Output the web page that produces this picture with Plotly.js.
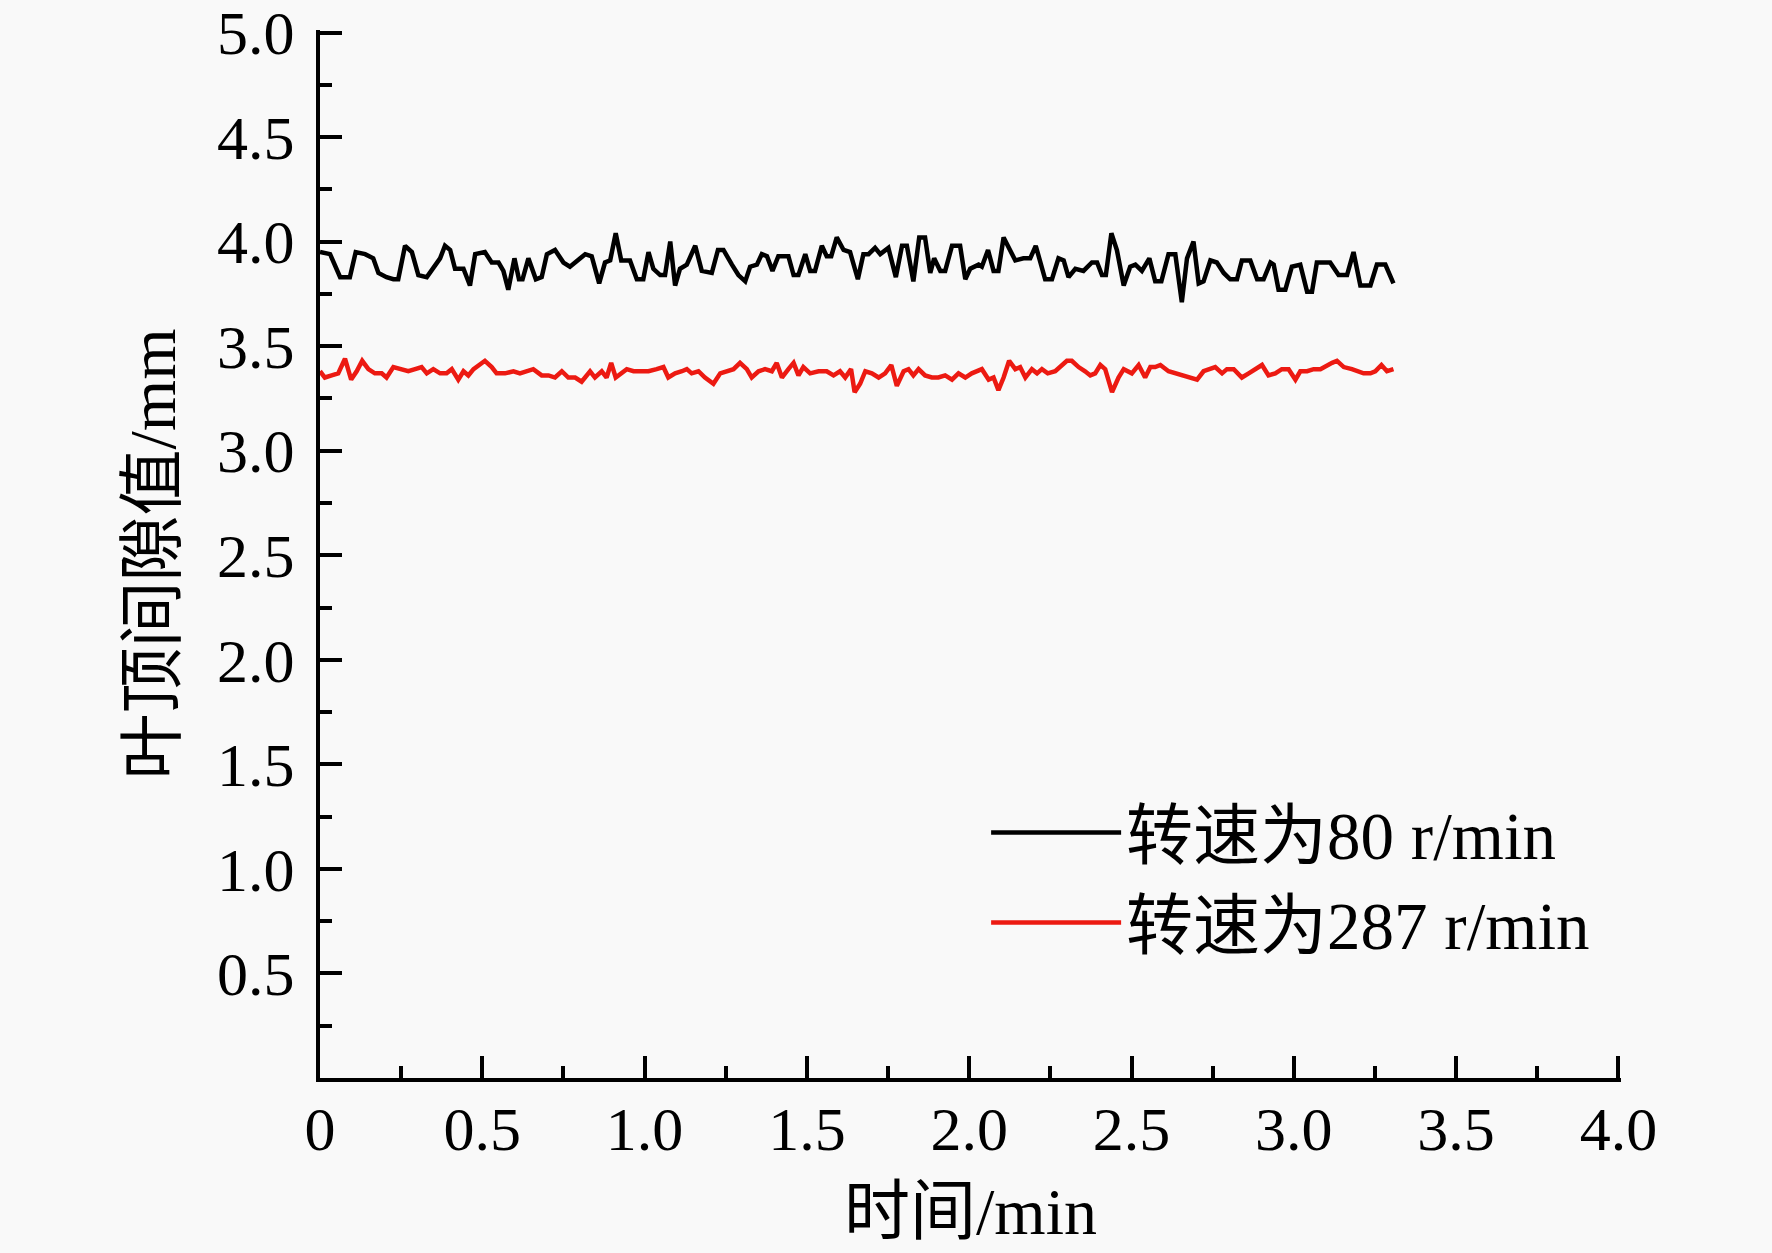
<!DOCTYPE html>
<html>
<head>
<meta charset="utf-8">
<script src="https://cdn.plot.ly/plotly-3.0.1.min.js"></script>
<style>
  html, body { margin: 0; padding: 0; background: #f9f9f9; }
  #chart { width: 1772px; height: 1253px; }
</style>
</head>
<body>
<div id="chart"></div>
<script>
// Tip-clearance readings (mm) against time (min).
const slowTime = [
  0.000, 0.031, 0.062, 0.092, 0.110, 0.139, 0.164, 0.180, 0.205, 0.226, 0.241, 0.262, 0.283, 0.303, 0.329,
  0.354, 0.370, 0.385, 0.401, 0.416, 0.442, 0.462, 0.478, 0.508, 0.529, 0.550, 0.565, 0.580, 0.599, 0.613,
  0.624, 0.642, 0.665, 0.683, 0.699, 0.724, 0.750, 0.770, 0.796, 0.817,
  0.837, 0.860, 0.878, 0.894, 0.911, 0.928, 0.955, 0.976, 0.996, 1.012, 1.027, 1.048, 1.063, 1.079, 1.094,
  1.109, 1.130, 1.156, 1.176, 1.207, 1.226, 1.243, 1.269, 1.289, 1.310, 1.325, 1.346, 1.361, 1.377, 1.394,
  1.412, 1.443, 1.459, 1.474, 1.495, 1.510, 1.525, 1.546, 1.561, 1.575, 1.592, 1.613, 1.633, 1.649,
  1.657, 1.674, 1.690, 1.710, 1.726, 1.751, 1.774, 1.793, 1.808, 1.828, 1.846, 1.864, 1.880, 1.892, 1.911,
  1.926, 1.947, 1.972, 1.988, 2.003, 2.029, 2.039, 2.058, 2.075, 2.090, 2.106, 2.121, 2.142, 2.167, 2.188,
  2.205, 2.234, 2.255, 2.275, 2.291, 2.306, 2.327, 2.352, 2.378, 2.394, 2.409, 2.421, 2.438, 2.455, 2.476,
  2.496, 2.512, 2.532, 2.555, 2.573, 2.592, 2.614, 2.635, 2.655, 2.671, 2.691, 2.707, 2.722, 2.743, 2.763,
  2.784, 2.804, 2.825, 2.840, 2.866, 2.887, 2.907, 2.928, 2.938, 2.953, 2.974, 2.994, 3.020, 3.041, 3.056,
  3.071, 3.097, 3.112, 3.138, 3.164, 3.184, 3.205, 3.236, 3.256, 3.282, 3.307,
];
const slowGap = [
  3.95, 3.94, 3.83, 3.83, 3.95, 3.94, 3.92, 3.85, 3.83, 3.82, 3.82, 3.98, 3.95, 3.84, 3.83,
  3.88, 3.92, 3.98, 3.96, 3.87, 3.87, 3.79, 3.94, 3.95, 3.90, 3.90, 3.86, 3.77, 3.92, 3.82,
  3.82, 3.92, 3.82, 3.83, 3.94, 3.96, 3.90, 3.88, 3.91, 3.94,
  3.93, 3.80, 3.90, 3.91, 4.04, 3.91, 3.91, 3.82, 3.82, 3.95, 3.87, 3.84, 3.84, 4.00, 3.79,
  3.87, 3.89, 3.98, 3.86, 3.85, 3.96, 3.96, 3.89, 3.84, 3.81, 3.88, 3.89, 3.94, 3.93, 3.86,
  3.93, 3.93, 3.84, 3.84, 3.94, 3.86, 3.86, 3.98, 3.93, 3.93, 4.02, 3.96, 3.95, 3.86,
  3.82, 3.94, 3.94, 3.97, 3.94, 3.97, 3.83, 3.98, 3.98, 3.81, 4.02, 4.02, 3.85, 3.92, 3.86,
  3.86, 3.98, 3.98, 3.82, 3.87, 3.89, 3.88, 3.96, 3.86, 3.86, 4.02, 3.97, 3.91, 3.92, 3.92,
  3.98, 3.82, 3.82, 3.92, 3.91, 3.83, 3.87, 3.86, 3.90, 3.90, 3.84, 3.84, 4.04, 3.96, 3.79,
  3.88, 3.89, 3.86, 3.92, 3.81, 3.81, 3.94, 3.94, 3.71, 3.92, 4.00, 3.80, 3.81, 3.91, 3.90,
  3.85, 3.82, 3.82, 3.91, 3.91, 3.82, 3.82, 3.90, 3.89, 3.77, 3.77, 3.88, 3.89, 3.76, 3.76,
  3.90, 3.90, 3.90, 3.84, 3.84, 3.95, 3.79, 3.79, 3.89, 3.89, 3.80,
];

const fastTime = [
  0.000, 0.015, 0.036, 0.056, 0.077, 0.096, 0.113, 0.130, 0.149, 0.169, 0.190, 0.205, 0.226, 0.247, 0.272,
  0.293, 0.313, 0.329, 0.349, 0.370, 0.390, 0.406, 0.426, 0.442, 0.457, 0.473, 0.488, 0.508, 0.529, 0.544,
  0.570, 0.596, 0.616, 0.637, 0.657, 0.683, 0.704, 0.724, 0.745, 0.765, 0.786, 0.806, 0.817,
  0.832, 0.847, 0.868, 0.883, 0.897, 0.911, 0.930, 0.945, 0.966, 0.991, 1.012, 1.037, 1.058, 1.073, 1.094,
  1.115, 1.130, 1.145, 1.166, 1.186, 1.212, 1.233, 1.253, 1.274, 1.294, 1.315, 1.330, 1.351, 1.371, 1.392,
  1.407, 1.423, 1.443, 1.459, 1.474, 1.489, 1.510, 1.536, 1.561, 1.582, 1.602, 1.618, 1.636, 1.647,
  1.664, 1.680, 1.700, 1.721, 1.741, 1.760, 1.777, 1.798, 1.813, 1.828, 1.844, 1.864, 1.885, 1.905, 1.926,
  1.947, 1.967, 1.988, 2.008, 2.024, 2.039, 2.060, 2.075, 2.090, 2.106, 2.123, 2.142, 2.157, 2.173, 2.193,
  2.209, 2.224, 2.242, 2.265, 2.280, 2.301, 2.316, 2.337, 2.357, 2.373, 2.388, 2.404, 2.419, 2.440, 2.460,
  2.476,
  2.501, 2.522, 2.542, 2.558, 2.573, 2.589, 2.614, 2.635, 2.655, 2.676, 2.702, 2.722, 2.743, 2.758, 2.779,
  2.794, 2.815, 2.840, 2.861, 2.881, 2.902, 2.922, 2.943, 2.963, 2.984, 3.005, 3.020, 3.041, 3.061, 3.082,
  3.102, 3.118, 3.133, 3.154, 3.179, 3.195, 3.215, 3.236, 3.251, 3.270, 3.287, 3.307,
];
const fastGap = [
  3.38, 3.35, 3.36, 3.37, 3.44, 3.34, 3.38, 3.43, 3.39, 3.37, 3.37, 3.35, 3.40, 3.39, 3.38,
  3.39, 3.40, 3.37, 3.39, 3.37, 3.37, 3.39, 3.34, 3.38, 3.36, 3.39, 3.41, 3.43, 3.40, 3.37,
  3.37, 3.38, 3.37, 3.38, 3.39, 3.36, 3.36, 3.35, 3.38, 3.35, 3.35, 3.33, 3.35,
  3.38, 3.35, 3.38, 3.35, 3.42, 3.35, 3.37, 3.39, 3.38, 3.38, 3.38, 3.39, 3.40, 3.35, 3.37,
  3.38, 3.39, 3.37, 3.38, 3.35, 3.32, 3.37, 3.38, 3.39, 3.42, 3.39, 3.35, 3.38, 3.39, 3.38,
  3.42, 3.35, 3.39, 3.42, 3.36, 3.40, 3.37, 3.38, 3.38, 3.36, 3.38, 3.35, 3.39, 3.28,
  3.32, 3.38, 3.37, 3.35, 3.37, 3.41, 3.31, 3.38, 3.39, 3.36, 3.39, 3.36, 3.35, 3.35, 3.36,
  3.34, 3.37, 3.35, 3.37, 3.38, 3.39, 3.34, 3.35, 3.29, 3.35, 3.43, 3.39, 3.40, 3.35, 3.39,
  3.37, 3.39, 3.37, 3.38, 3.40, 3.43, 3.43, 3.40, 3.38, 3.36, 3.37, 3.41, 3.39, 3.28, 3.35,
  3.39,
  3.37, 3.41, 3.35, 3.40, 3.40, 3.41, 3.38, 3.37, 3.36, 3.35, 3.34, 3.38, 3.39, 3.40, 3.37,
  3.39, 3.39, 3.35, 3.37, 3.39, 3.41, 3.36, 3.37, 3.39, 3.39, 3.34, 3.38, 3.38, 3.39, 3.39,
  3.41, 3.42, 3.43, 3.40, 3.39, 3.38, 3.37, 3.37, 3.38, 3.41, 3.38, 3.39,
];

const seriesNames = ["转速为80 r/min", "转速为287 r/min"];

const xTickVals = [0, 0.5, 1.0, 1.5, 2.0, 2.5, 3.0, 3.5, 4.0];
const xTickText = ["0", "0.5", "1.0", "1.5", "2.0", "2.5", "3.0", "3.5", "4.0"];
const yTickVals = [0.5, 1.0, 1.5, 2.0, 2.5, 3.0, 3.5, 4.0, 4.5, 5.0];
const yTickText = ["0.5", "1.0", "1.5", "2.0", "2.5", "3.0", "3.5", "4.0", "4.5", "5.0"];

const FONT = "'Liberation Serif', 'Times New Roman', 'Noto Sans CJK SC', serif";
const BG = "#f9f9f9";

const traces = [
  {
    x: slowTime,
    y: slowGap,
    type: "scatter",
    mode: "lines",
    name: seriesNames[0],
    line: { color: "#000000", width: 4.5 },
  },
  {
    x: fastTime,
    y: fastGap,
    type: "scatter",
    mode: "lines",
    name: seriesNames[1],
    line: { color: "#ec1a12", width: 4.5 },
  },
];

// shared look for both axes: thick black frame line, inward ticks
function axisBase() {
  return {
    showline: true,
    linecolor: "#000",
    linewidth: 4,
    showgrid: false,
    zeroline: false,
    mirror: false,
    ticks: "inside",
    ticklen: 22,
    tickwidth: 4,
    tickcolor: "#000",
    tickmode: "array",
    tickfont: { family: FONT, size: 62, color: "#000" },
    ticklabeloverflow: "allow",
    minor: { tickmode: "linear", tick0: 0, dtick: 0.25, ticks: "inside", ticklen: 12, tickwidth: 4, tickcolor: "#000" },
    automargin: false,
    fixedrange: true,
  };
}

// inside ticks sitting right on the plot edge get dropped by plotly,
// so the ranges run a couple of pixels past the last tick
const xaxis = Object.assign(axisBase(), {
  range: [0, 4.008],
  tickvals: xTickVals,
  ticktext: xTickText,
  ticklabelstandoff: -6,
  title: { text: "时间/min", font: { family: FONT, size: 66, color: "#000" }, standoff: 26 },
});

const yaxis = Object.assign(axisBase(), {
  range: [0, 5.012],
  tickvals: yTickVals,
  ticktext: yTickText,
  ticklabelstandoff: 9,
  title: { text: "叶顶间隙值/mm", font: { family: FONT, size: 66, color: "#000" }, standoff: 21 },
});

const layout = {
  width: 1772,
  height: 1253,
  margin: { l: 320, r: 151, t: 30, b: 175, pad: 0 },
  paper_bgcolor: BG,
  plot_bgcolor: BG,
  font: { family: FONT, color: "#000" },
  xaxis,
  yaxis,
  showlegend: true,
  legend: {
    x: 0.512,
    xanchor: "left",
    y: 0.282,
    yanchor: "top",
    bgcolor: "rgba(0,0,0,0)",
    borderwidth: 0,
    font: { family: FONT, size: 67, color: "#000" },
    itemwidth: 130,
    tracegroupgap: 0,
  },
};

Plotly.newPlot("chart", traces, layout, { staticPlot: true, displayModeBar: false });
</script>
</body>
</html>
